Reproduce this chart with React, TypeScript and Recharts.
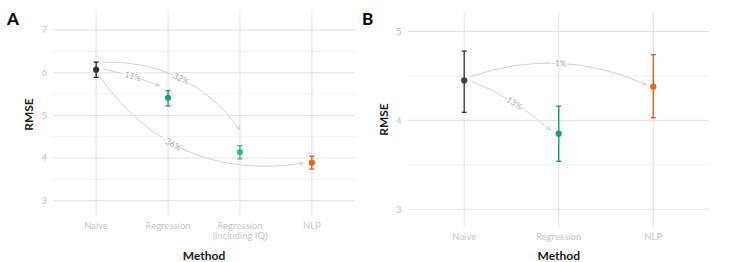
import React from 'react';
import { ScatterChart, Scatter, XAxis, YAxis, ErrorBar, ReferenceLine } from 'recharts';

const FONT = 'Lato, "Open Sans", sans-serif';

// panel A
const methodsA = ['Naive', 'Regression', 'Regression\n(including IQ)', 'NLP'];
const rmseA = [6.07, 5.41, 4.14, 3.89];
const lowA = [5.89, 5.22, 3.98, 3.74];
const highA = [6.25, 5.58, 4.29, 4.04];
const colorsA = ['#333333', '#1b9e77', '#3cb98c', '#e8631c'];
const ticksA = [3, 4, 5, 6, 7];
const minorA = [3.5, 4.5, 5.5, 6.5];
const arrowsA = [
  { from: [1.09, 6.09], to: [1.88, 5.7], bend: 0.05, at: 0.5, label: '-11%' },
  { from: [1.08, 6.25], to: [3.0, 4.67], bend: 0.26, at: 0.5, label: '-32%' },
  { from: [1.05, 5.91], to: [3.88, 3.88], bend: -0.31, at: 0.42, label: '-36%' },
];

// panel B
const methodsB = ['Naive', 'Regression', 'NLP'];
const rmseB = [4.45, 3.85, 4.38];
const lowB = [4.09, 3.54, 4.03];
const highB = [4.78, 4.16, 4.74];
const colorsB = ['#404040', '#1b9e77', '#e8631c'];
const ticksB = [3, 4, 5];
const minorB = [3.5, 4.5];
const arrowsB = [
  { from: [1.06, 4.49], to: [2.93, 4.4], bend: 0.2, at: 0.5, label: '-1%' },
  { from: [1.08, 4.44], to: [1.91, 3.89], bend: 0.09, at: 0.5, label: '-13%' },
];

const TICK_COLOR = '#c6c6c6';

function XTick(props: any) {
  const { x, y, payload, names } = props;
  const lines: string[] = (names[payload.value - 1] || '').split('\n');
  return (
    <g>
      {lines.map((l, i) => (
        <text
          key={i}
          x={x}
          y={y + 9 + i * 10}
          textAnchor="middle"
          dominantBaseline="central"
          fontSize={9.5}
          fill={TICK_COLOR}
          fontFamily={FONT}
        >
          {l}
        </text>
      ))}
    </g>
  );
}

function CurvedArrow(props: any) {
  const { x1, y1, x2, y2, bend, label, at } = props;
  if (x1 == null) return null;
  const dx = x2 - x1;
  const dy = y2 - y1;
  const cx = (x1 + x2) / 2 + bend * dy;
  const cy = (y1 + y2) / 2 - bend * dx;
  const t = at;
  const mx = (1 - t) * (1 - t) * x1 + 2 * t * (1 - t) * cx + t * t * x2;
  const my = (1 - t) * (1 - t) * y1 + 2 * t * (1 - t) * cy + t * t * y2;
  const tx = 2 * (1 - t) * (cx - x1) + 2 * t * (x2 - cx);
  const ty = 2 * (1 - t) * (cy - y1) + 2 * t * (y2 - cy);
  const ang = (Math.atan2(ty, tx) * 180) / Math.PI;
  const a = Math.atan2(y2 - cy, x2 - cx);
  const h = 5;
  const ax1 = x2 - h * Math.cos(a - 0.45);
  const ay1 = y2 - h * Math.sin(a - 0.45);
  const ax2 = x2 - h * Math.cos(a + 0.45);
  const ay2 = y2 - h * Math.sin(a + 0.45);
  return (
    <g>
      <path d={`M${x1},${y1} Q${cx},${cy} ${x2},${y2}`} fill="none" stroke="#d4d4d4" strokeWidth={1} />
      <path d={`M${ax1},${ay1} L${x2},${y2} L${ax2},${ay2}`} fill="none" stroke="#d4d4d4" strokeWidth={1} />
      <text
        x={mx}
        y={my}
        transform={`rotate(${ang} ${mx} ${my})`}
        textAnchor="middle"
        dominantBaseline="central"
        fontSize={8.5}
        fontFamily={FONT}
        fill="#ababab"
        stroke="#ffffff"
        strokeWidth={2}
        paintOrder="stroke"
      >
        {label}
      </text>
    </g>
  );
}

const yTitle = (props: any) => {
  const vb = props.viewBox || { x: 0, y: 13, width: 53, height: 203 };
  const cx = vb.x + 28;
  const cy = vb.y + vb.height / 2;
  return (
    <text
      x={cx}
      y={cy}
      transform={`rotate(-90 ${cx} ${cy})`}
      textAnchor="middle"
      dominantBaseline="central"
      fontSize={12}
      fontWeight={700}
      fill="#1a1a1a"
      fontFamily={FONT}
    >
      RMSE
    </text>
  );
};

const xTitle = (props: any) => {
  const vb = props.viewBox || { x: 53, y: 216, width: 302, height: 46 };
  return (
    <text
      x={vb.x + vb.width / 2}
      y={vb.y + vb.height - 7}
      textAnchor="middle"
      dominantBaseline="central"
      fontSize={12}
      fontWeight={700}
      fill="#1a1a1a"
      fontFamily={FONT}
    >
      Method
    </text>
  );
};

function Panel(props: any) {
  const { width, height, margin, yWidth, xHeight, names, values, lows, highs, colors, domain, ticks, minor, arrows } = props;
  return (
    <ScatterChart width={width} height={height} margin={margin}>
      {minor.map((v: number) => (
        <ReferenceLine key={'m' + v} y={v} stroke="#f0f0f0" strokeWidth={0.9} />
      ))}
      {ticks.map((v: number) => (
        <ReferenceLine key={'t' + v} y={v} stroke="#e0e0e0" strokeWidth={0.9} />
      ))}
      {names.map((_: string, i: number) => (
        <ReferenceLine key={'v' + i} x={i + 1} stroke="#e0e0e0" strokeWidth={0.9} />
      ))}
      <XAxis
        type="number"
        dataKey="x"
        domain={[0.4, names.length + 0.6]}
        ticks={names.map((_: string, i: number) => i + 1)}
        interval={0}
        tick={<XTick names={names} />}
        tickSize={0}
        tickMargin={0}
        tickLine={false}
        axisLine={false}
        height={xHeight}
        allowDataOverflow
        label={xTitle}
      />
      <YAxis
        type="number"
        dataKey="y"
        domain={domain}
        ticks={ticks}
        interval={0}
        tick={{ fill: TICK_COLOR, fontSize: 9.5, fontFamily: FONT }}
        tickSize={0}
        tickMargin={6}
        tickLine={false}
        axisLine={false}
        width={yWidth}
        allowDataOverflow
        label={yTitle}
      />
      {arrows.map((a: any) => (
        <ReferenceLine
          key={a.label}
          segment={[
            { x: a.from[0], y: a.from[1] },
            { x: a.to[0], y: a.to[1] },
          ]}
          ifOverflow="visible"
          shape={(p: any) => <CurvedArrow {...p} bend={a.bend} at={a.at} label={a.label} />}
        />
      ))}
      {names.map((m: string, i: number) => (
        <Scatter
          key={m}
          data={[{ x: i + 1, y: values[i], err: [values[i] - lows[i], highs[i] - values[i]] }]}
          fill={colors[i]}
          isAnimationActive={false}
          shape={(p: any) => <circle cx={p.cx} cy={p.cy} r={3.1} fill={colors[i]} />}
        >
          <ErrorBar dataKey="err" direction="y" width={2.5} stroke={colors[i]} strokeWidth={1.4} isAnimationActive={false} />
        </Scatter>
      ))}
    </ScatterChart>
  );
}

export default function App() {
  return (
    <div style={{ position: 'absolute', left: 0, top: 0, width: 733, height: 262, background: '#fff', fontFamily: FONT }}>
      <div style={{ position: 'absolute', left: 0, top: 0 }}>
        <Panel
          width={370}
          height={262}
          margin={{ top: 13, right: 15, bottom: 0, left: 0 }}
          yWidth={53}
          xHeight={46}
          names={methodsA}
          values={rmseA}
          lows={lowA}
          highs={highA}
          colors={colorsA}
          domain={[2.64, 7.4]}
          ticks={ticksA}
          minor={minorA}
          arrows={arrowsA}
        />
      </div>
      <div style={{ position: 'absolute', left: 355, top: 0 }}>
        <Panel
          width={378}
          height={262}
          margin={{ top: 12, right: 23, bottom: 0, left: 0 }}
          yWidth={52.5}
          xHeight={35}
          names={methodsB}
          values={rmseB}
          lows={lowB}
          highs={highB}
          colors={colorsB}
          domain={[2.8, 5.22]}
          ticks={ticksB}
          minor={minorB}
          arrows={arrowsB}
        />
      </div>
      <svg width={733} height={262} style={{ position: 'absolute', left: 0, top: 0, pointerEvents: 'none' }}>
        <text x={7} y={25} fontSize={17} fontWeight={900} fill="#111" fontFamily={FONT}>A</text>
        <text x={362} y={25} fontSize={17} fontWeight={900} fill="#111" fontFamily={FONT}>B</text>
      </svg>
    </div>
  );
}
